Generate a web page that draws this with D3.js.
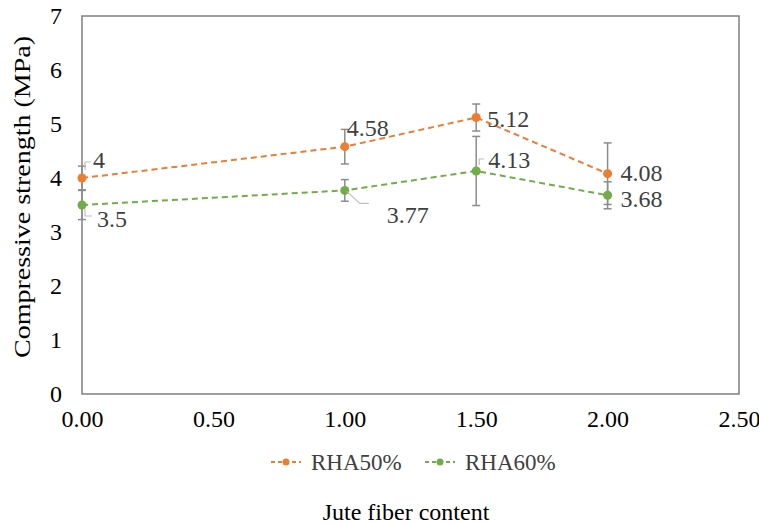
<!DOCTYPE html>
<html>
<head>
<meta charset="utf-8">
<script src="https://cdn.jsdelivr.net/npm/d3@7"></script>
<style>
  html, body { margin: 0; padding: 0; background: #fff; }
</style>
</head>
<body>
<svg id="chart" width="759" height="524"></svg>
<script>
"use strict";
// Compressive strength vs jute fiber content, two RHA mixes with error bars.
const fiber = [0, 1.0, 1.5, 2.0];
const rha50 = [4.0, 4.58, 5.12, 4.08];
const rha60 = [3.5, 3.77, 4.13, 3.68];
const rha50Err = [0.22, 0.32, 0.25, 0.57];
const rha60Err = [0.27, 0.2, 0.64, 0.25];
const xTicks = [0, 0.5, 1.0, 1.5, 2.0, 2.5];
const yTicks = [0, 1, 2, 3, 4, 5, 6, 7];
const seriesNames = ["RHA50%", "RHA60%"];

const W = 759, H = 524;
const FONT = "'Liberation Serif', 'Times New Roman', Times, serif";
const m = { left: 82, right: 20, top: 16, bottom: 130 };
const svg = d3.select("#chart").attr("font-family", FONT);

const x = d3.scaleLinear().domain([0, 2.5]).range([m.left, W - m.right]);
const y = d3.scaleLinear().domain([0, 7]).range([H - m.bottom, m.top]);

const grey = "#404040";
const series = [
  { name: seriesNames[0], vals: rha50, err: rha50Err, color: "#ED7D31" },
  { name: seriesNames[1], vals: rha60, err: rha60Err, color: "#70AD47" }
];

// plot area border
svg.append("rect")
  .attr("x", x(0)).attr("y", y(7))
  .attr("width", x(2.5) - x(0)).attr("height", y(0) - y(7))
  .attr("fill", "none").attr("stroke", "#7f7f7f").attr("stroke-width", 1.5);

// axes (labels only, Excel style)
const yAxis = svg.append("g").attr("transform", "translate(" + x(0) + ",0)")
  .call(d3.axisLeft(y).tickValues(yTicks).tickSize(0).tickPadding(20).tickFormat(d3.format("d")));
const xAxis = svg.append("g").attr("transform", "translate(0," + y(0) + ")")
  .call(d3.axisBottom(x).tickValues(xTicks).tickSize(0).tickPadding(16).tickFormat(d3.format(".2f")));
[yAxis, xAxis].forEach((a) => {
  a.attr("font-family", FONT).attr("font-size", 24);
  a.select(".domain").remove();
  a.selectAll("text").attr("fill", "#000");
});

// error bars
series.forEach((s) => {
  const g = svg.append("g").attr("stroke", "#8c8c8c").attr("stroke-width", 1.5);
  fiber.forEach((f, i) => {
    const hi = y(s.vals[i] + s.err[i]), lo = y(s.vals[i] - s.err[i]), cx = x(f);
    g.append("line").attr("x1", cx).attr("x2", cx).attr("y1", hi).attr("y2", lo);
    g.append("line").attr("x1", cx - 4).attr("x2", cx + 4).attr("y1", hi).attr("y2", hi);
    g.append("line").attr("x1", cx - 4).attr("x2", cx + 4).attr("y1", lo).attr("y2", lo);
  });
});

// lines and markers
const line = d3.line().x((d) => x(d[0])).y((d) => y(d[1]));
series.forEach((s) => {
  const pts = fiber.map((f, i) => [f, s.vals[i]]);
  svg.append("path").attr("d", line(pts)).attr("fill", "none")
    .attr("stroke", s.color).attr("stroke-width", 2).attr("stroke-dasharray", "6,4");
  svg.append("g").selectAll("circle").data(pts).enter().append("circle")
    .attr("cx", (d) => x(d[0])).attr("cy", (d) => y(d[1])).attr("r", 4.5).attr("fill", s.color);
});

// data labels: offset [dx, dy] from point (label's left edge / middle)
const labelPos = {
  "RHA50%": [[11, -18], [2, -19], [11, 1], [13, -1]],
  "RHA60%": [[15, 14], [42, 24], [12, -11], [13, 3]]
};
const leader = (s, i, px, py) => {
  if (s === "RHA50%" && i === 0) return [[px + 3, py - 8], [px + 3, py - 16], [px + 9, py - 16]];
  if (s === "RHA60%" && i === 0) return [[px + 3, py + 4], [px + 3, py + 11], [px + 10, py + 11]];
  if (s === "RHA60%" && i === 1) return [[px + 2, py + 1], [px + 15, py + 13], [px + 24, py + 13]];
  if (s === "RHA60%" && i === 2) return [[px + 3, py - 6], [px + 3, py - 12], [px + 8, py - 12]];
  return null;
};
series.forEach((s) => {
  fiber.forEach((f, i) => {
    const px = x(f), py = y(s.vals[i]);
    const [dx, dy] = labelPos[s.name][i];
    const pts = leader(s.name, i, px, py);
    if (pts) {
      svg.append("path").attr("d", d3.line()(pts)).attr("fill", "none")
        .attr("stroke", "#bfbfbf").attr("stroke-width", 1.2);
    }
    svg.append("text").attr("x", px + dx).attr("y", py + dy).attr("dy", "0.35em")
      .attr("font-size", 24).attr("fill", grey)
      .text(d3.format("~g")(s.vals[i]));
  });
});

// legend
const legend = svg.append("g").attr("transform", "translate(0,462)");
const legX = [271, 425];
series.forEach((s, i) => {
  const lx = legX[i];
  legend.append("line").attr("x1", lx).attr("x2", lx + 30).attr("y1", 0).attr("y2", 0)
    .attr("stroke", s.color).attr("stroke-width", 2).attr("stroke-dasharray", "4,3");
  legend.append("circle").attr("cx", lx + 15).attr("cy", 0).attr("r", 3.5).attr("fill", s.color);
  legend.append("text").attr("x", lx + 40).attr("y", 0).attr("dy", "0.35em")
    .attr("font-size", 23).attr("fill", grey).text(s.name);
});

// axis titles
svg.append("text").attr("x", 406).attr("y", 512).attr("dy", "0.35em").attr("text-anchor", "middle")
  .attr("font-size", 24).attr("fill", "#000").text("Jute fiber content");
svg.append("text").attr("transform", "translate(22,197) rotate(-90)")
  .attr("text-anchor", "middle").attr("dy", "0.35em").attr("font-size", 24).attr("fill", "#000")
  .attr("textLength", 322).attr("lengthAdjust", "spacingAndGlyphs")
  .text("Compressive strength (MPa)");
</script>
</body>
</html>
